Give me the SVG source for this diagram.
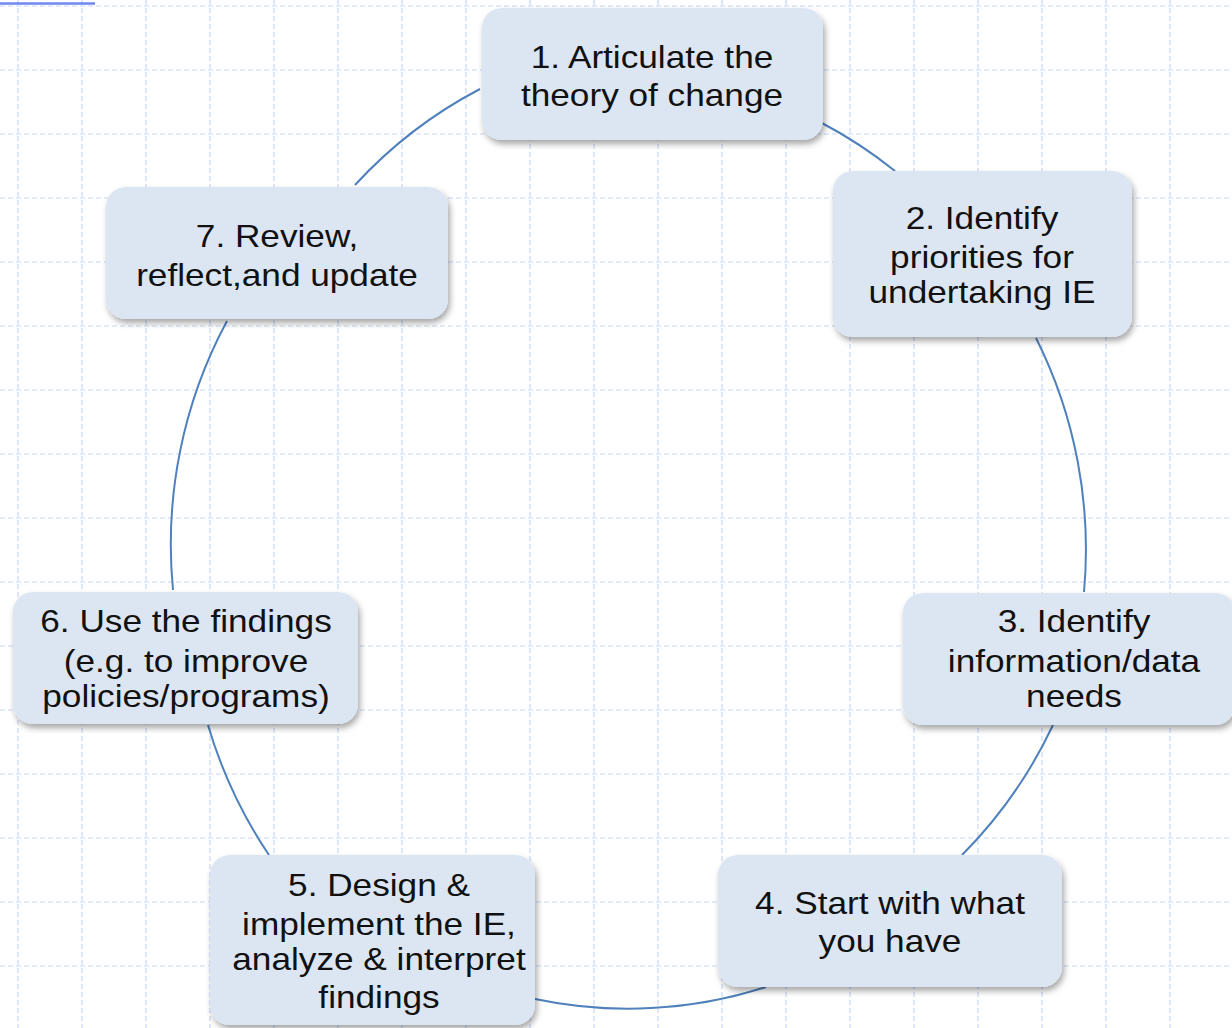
<svg xmlns="http://www.w3.org/2000/svg" width="1232" height="1028" viewBox="0 0 1232 1028">
<style>
.grid{fill:none;stroke:#c9d5fa;stroke-width:1.2;stroke-dasharray:5 3}
.conn{fill:none;stroke:#4f81bd;stroke-width:2}
.box{fill:#dce6f2;filter:url(#sh)}
.lbl{font-family:"Liberation Sans",Arial,sans-serif;font-size:32px;fill:#111;text-anchor:middle}
</style>
<defs>
<filter id="sh" x="-10%" y="-10%" width="125%" height="135%">
<feDropShadow dx="2" dy="4" stdDeviation="3" flood-color="#000" flood-opacity="0.35"/>
</filter>
</defs>
<rect width="1232" height="1028" fill="#fff"/>
<g id="grid">
<path class="grid" d="M0 6H1232M0 70H1232M0 134H1232M0 198H1232M0 262H1232M0 326H1232M0 390H1232M0 454H1232M0 518H1232M0 582H1232M0 646H1232M0 710H1232M0 774H1232M0 838H1232M0 902H1232M0 966H1232M18 0V1028M82 0V1028M146 0V1028M210 0V1028M274 0V1028M338 0V1028M402 0V1028M466 0V1028M530 0V1028M594 0V1028M658 0V1028M722 0V1028M786 0V1028M850 0V1028M914 0V1028M978 0V1028M1042 0V1028M1106 0V1028M1170 0V1028"/>
<line x1="0" y1="3.5" x2="95" y2="3.5" stroke="#6e88ee" stroke-width="2.5"/>
</g>
<g id="connectors">
<path class="conn" d="M355 185A457 465 0 0 1 480 89"/>
<path class="conn" d="M820 122A457 465 0 0 1 895 171"/>
<path class="conn" d="M1036 338A457 465 0 0 1 1084 592"/>
<path class="conn" d="M1053 725A457 465 0 0 1 962 855"/>
<path class="conn" d="M766 987A457 465 0 0 1 535 999"/>
<path class="conn" d="M269 855A457 465 0 0 1 208 725"/>
<path class="conn" d="M173 590A457 465 0 0 1 227 321"/>
</g>
<g id="node1">
<rect class="box" x="482" y="8" width="341" height="132" rx="20"/>
<text class="lbl" transform="translate(652 0) scale(1.1 1)"><tspan x="0" y="68">1. Articulate the</tspan><tspan x="0" y="106">theory of change</tspan></text>
</g>
<g id="node2">
<rect class="box" x="833" y="171" width="299" height="166" rx="20"/>
<text class="lbl" transform="translate(982 0) scale(1.1 1)"><tspan x="0" y="229">2. Identify</tspan><tspan x="0" y="268">priorities for</tspan><tspan x="0" y="303">undertaking IE</tspan></text>
</g>
<g id="node3">
<rect class="box" x="903" y="593" width="332" height="132" rx="20"/>
<text class="lbl" transform="translate(1074 0) scale(1.1 1)"><tspan x="0" y="632">3. Identify</tspan><tspan x="0" y="672">information/data</tspan><tspan x="0" y="707">needs</tspan></text>
</g>
<g id="node4">
<rect class="box" x="718" y="855" width="344" height="132" rx="20"/>
<text class="lbl" transform="translate(890 0) scale(1.1 1)"><tspan x="0" y="914">4. Start with what</tspan><tspan x="0" y="952">you have</tspan></text>
</g>
<g id="node5">
<rect class="box" x="210" y="855" width="325" height="170" rx="20"/>
<text class="lbl" transform="translate(379 0) scale(1.1 1)"><tspan x="0" y="896">5. Design &amp;</tspan><tspan x="0" y="935">implement the IE,</tspan><tspan x="0" y="970">analyze &amp; interpret</tspan><tspan x="0" y="1008">findings</tspan></text>
</g>
<g id="node6">
<rect class="box" x="13" y="592" width="345" height="132" rx="20"/>
<text class="lbl" transform="translate(186 0) scale(1.1 1)"><tspan x="0" y="632">6. Use the findings</tspan><tspan x="0" y="672">(e.g. to improve</tspan><tspan x="0" y="707">policies/programs)</tspan></text>
</g>
<g id="node7">
<rect class="box" x="106" y="187" width="342" height="132" rx="20"/>
<text class="lbl" transform="translate(277 0) scale(1.1 1)"><tspan x="0" y="247">7. Review,</tspan><tspan x="0" y="286">reflect,and update</tspan></text>
</g>
</svg>
